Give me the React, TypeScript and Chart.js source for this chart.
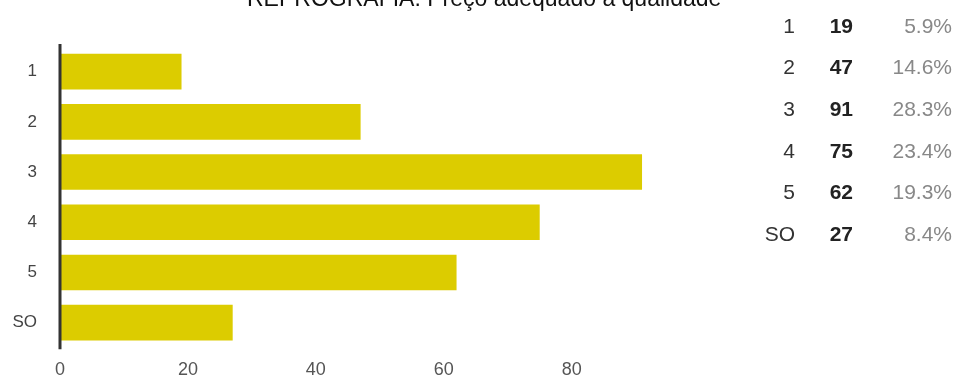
import React, { useEffect, useRef } from "react";
import { Chart, registerables } from "chart.js";

Chart.register(...registerables);

const categories = ["1", "2", "3", "4", "5", "SO"];
const counts = [19, 47, 91, 75, 62, 27];
const xTicks = [0, 20, 40, 60, 80];
const xMax = 100;
const titleText = "REPROGRAFIA: Preço adequado à qualidade";

const FONT = "'Liberation Sans', Arial, sans-serif";
const BAR_COLOR = "#DCCC00";

const axisLinePlugin = {
  id: "axisLine",
  afterDatasetsDraw(chart: any) {
    const { ctx, chartArea } = chart;
    ctx.save();
    ctx.strokeStyle = "#333333";
    ctx.lineWidth = 3;
    ctx.beginPath();
    ctx.moveTo(chartArea.left, chartArea.top - 2.5);
    ctx.lineTo(chartArea.left, chartArea.bottom + 1.5);
    ctx.stroke();
    ctx.restore();
  },
};

export default function App() {
  const canvasRef = useRef<HTMLCanvasElement | null>(null);

  useEffect(() => {
    if (!canvasRef.current) return;
    const chart = new Chart(canvasRef.current, {
      type: "bar",
      data: {
        labels: categories,
        datasets: [
          {
            data: counts,
            backgroundColor: BAR_COLOR,
            borderWidth: 0,
            categoryPercentage: 1,
            barPercentage: 0.71,
          },
        ],
      },
      options: {
        indexAxis: "y",
        responsive: false,
        animation: false,
        layout: { padding: { top: 46.5, right: 256.4, left: 0, bottom: 0 } },
        plugins: {
          legend: { display: false },
          tooltip: { enabled: false },
          title: { display: false },
        },
        scales: {
          x: {
            type: "linear",
            min: 0,
            max: xMax,
            grid: { display: false, drawTicks: false },
            border: { display: false },
            afterBuildTicks: (scale: any) => {
              scale.ticks = xTicks.map((v) => ({ value: v }));
            },
            afterFit: (scale: any) => {
              scale.height = 30.5;
            },
            ticks: {
              padding: 11,
              color: "#555555",
              font: { family: FONT, size: 18 },
              maxRotation: 0,
            },
          },
          y: {
            grid: { display: false, drawTicks: false },
            border: { display: false },
            afterFit: (scale: any) => {
              scale.width = 60;
            },
            ticks: {
              padding: 23,
              color: "#444444",
              font: { family: FONT, size: 17 },
            },
          },
        },
      },
      plugins: [axisLinePlugin],
    });
    return () => chart.destroy();
  }, []);

  const total = counts.reduce((a, b) => a + b, 0);
  const rowCenters0 = 25.5;
  const rowStep = 41.7;
  const lh = 24;

  return (
    <div
      style={{
        position: "fixed",
        left: 0,
        top: 0,
        width: 956,
        height: 381,
        overflow: "hidden",
        background: "#ffffff",
        fontFamily: FONT,
      }}
    >
      <canvas
        ref={canvasRef}
        width={956}
        height={381}
        style={{ position: "absolute", left: 0, top: 0, width: 956, height: 381 }}
      />
      <div
        style={{
          position: "absolute",
          left: 247,
          top: -13.5,
          fontSize: 23,
          lineHeight: "23px",
          whiteSpace: "nowrap",
          color: "#111111",
        }}
      >
        {titleText}
      </div>
      {categories.map((c, i) => {
        const top = rowCenters0 + i * rowStep - lh / 2;
        const pct = ((counts[i] / total) * 100).toFixed(1) + "%";
        const common: React.CSSProperties = {
          position: "absolute",
          top,
          fontSize: 21,
          lineHeight: lh + "px",
          whiteSpace: "nowrap",
        };
        return (
          <React.Fragment key={c}>
            <div style={{ ...common, right: 956 - 795, color: "#333333" }}>{c}</div>
            <div style={{ ...common, right: 956 - 853, color: "#222222", fontWeight: "bold" }}>
              {counts[i]}
            </div>
            <div style={{ ...common, right: 956 - 952, color: "#888888" }}>{pct}</div>
          </React.Fragment>
        );
      })}
    </div>
  );
}
